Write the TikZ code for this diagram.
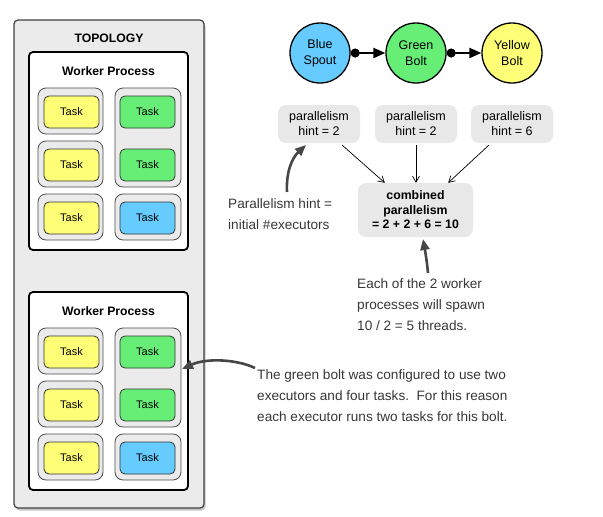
\documentclass[tikz,border=0pt]{standalone}
\usepackage{fontspec}
\setmainfont{Liberation Sans}
\usetikzlibrary{arrows.meta,shadows,calc}
\definecolor{tyellow}{RGB}{255,255,119}
\definecolor{tgreen}{RGB}{102,238,119}
\definecolor{tblue}{RGB}{102,204,255}
\definecolor{boxgray}{RGB}{235,235,235}
\definecolor{hintgray}{RGB}{232,232,232}
\definecolor{pen}{RGB}{55,55,55}
\definecolor{arrowgray}{RGB}{70,70,70}
\begin{document}
\begin{tikzpicture}[x=1pt,y=-1pt,
  topo/.style={draw=black!75, line width=1.2pt, fill=boxgray, rounded corners=4pt,
    minimum width=190pt, minimum height=488pt, inner sep=0pt,
    drop shadow={shadow xshift=1.5pt, shadow yshift=-2.5pt, opacity=0.45}},
  wp/.style={draw=black, line width=1.8pt, fill=white, rounded corners=4pt,
    minimum width=159pt, minimum height=198pt, inner sep=0pt},
  exec/.style={draw=black!70, line width=0.8pt, fill=boxgray, rounded corners=8pt, inner sep=0pt},
  task/.style={draw=black!80, line width=0.8pt, rounded corners=5pt, minimum width=55pt,
    minimum height=32pt, inner sep=0pt, font=\fontsize{11}{13}\selectfont},
  title/.style={font=\bfseries\fontsize{12.2}{14}\selectfont, inner sep=0pt},
  comp/.style={circle, draw=black, line width=1.3pt, minimum size=60pt, inner sep=0pt,
    align=center, font=\fontsize{12.5}{16}\selectfont},
  hint/.style={fill=hintgray, rounded corners=8pt, minimum width=82pt, minimum height=38pt,
    inner sep=0pt, align=center, font=\fontsize{12.5}{15}\selectfont},
  flow/.style={line width=2pt, {Circle[length=9pt]}-{Triangle[length=12pt,width=10pt]}},
  thin arrow/.style={line width=0.7pt, -{Straight Barb[length=6pt,width=7pt]}},
  note arrow/.style={draw=arrowgray, line width=2.6pt, -{Triangle[length=11pt,width=9pt]}},
  note/.style={text=pen, align=left, anchor=north west, inner sep=0pt,
    font=\fontsize{13.6}{21}\selectfont}
]
\useasboundingbox (0,0) rectangle (603,517);

% topology
\node[topo] (topo) at (109,264) {};
\node[title] (topotitle) at (109,38) {TOPOLOGY};

\foreach \w/\o in {1/0, 2/240} {
  \node[wp] (wp\w) at (108.5,151+\o) {};
  \node[title] (wpt\w) at (108.5,71+\o) {Worker Process};
  % executors
  \node[exec, minimum width=65pt, minimum height=46pt] (ea\w) at (70.5,111+\o) {};
  \node[exec, minimum width=65pt, minimum height=46pt] (eb\w) at (70.5,164+\o) {};
  \node[exec, minimum width=65pt, minimum height=46pt] (ec\w) at (70.5,217+\o) {};
  \node[exec, minimum width=66pt, minimum height=99pt] (ed\w) at (148,137.5+\o) {};
  \node[exec, minimum width=66pt, minimum height=46pt] (ee\w) at (148,217+\o) {};
  % tasks
  \node[task, fill=tyellow] (ta\w) at (71.5,112+\o) {Task};
  \node[task, fill=tyellow] (tb\w) at (71.5,165+\o) {Task};
  \node[task, fill=tyellow] (tc\w) at (71.5,218+\o) {Task};
  \node[task, fill=tgreen] (td\w) at (147.5,112+\o) {Task};
  \node[task, fill=tgreen] (te\w) at (147.5,165+\o) {Task};
  \node[task, fill=tblue] (tf\w) at (147.5,218+\o) {Task};
}

% components
\node[comp, fill=tblue] (blue) at (320,53) {Blue\\Spout};
\node[comp, fill=tgreen] (green) at (416,53) {Green\\Bolt};
\node[comp, fill=tyellow] (yellow) at (512,53) {Yellow\\Bolt};
\draw[flow] (blue) -- (green);
\draw[flow] (green) -- (yellow);

% hints
\node[hint] (p1) at (319,124) {parallelism\\hint = 2};
\node[hint] (p2) at (416,124) {parallelism\\hint = 2};
\node[hint] (p3) at (512,124) {parallelism\\hint = 6};
\node[hint, minimum width=115pt, minimum height=54pt,
  font=\bfseries\fontsize{12.3}{14.5}\selectfont] (comb) at (415.5,210)
  {combined\\parallelism\\= 2 + 2 + 6 = 10};

\draw[thin arrow] ($(p1.south east)+(-18,2)$) -- ($(comb.north west)+(27,0)$);
\draw[thin arrow] ($(p2.south)+(0,2)$) -- ($(comb.north)+(0.5,0)$);
\draw[thin arrow] ($(p3.south west)+(18,2)$) -- ($(comb.north east)+(-25,0)$);

% notes
\node[note] (n1) at (228,198) {Parallelism hint =\\initial \#executors};
\node[note] (n2) at (357,278) {Each of the 2 worker\\processes will spawn\\10 / 2 = 5 threads.};
\node[note] (n3) at (257,369) {The green bolt was configured to use two\\executors and four tasks.\ \ For this reason\\each executor runs two tasks for this bolt.};

\coordinate (a1s) at (287,192);
\coordinate (a1e) at (306,145);
\draw[note arrow] (a1s) .. controls (286,172) and (292,158) .. (a1e);
\coordinate (a2s) at (428,273);
\coordinate (a2e) at (423,239);
\draw[note arrow] (a2s) .. controls (427,262) and (425,250) .. (a2e);
\coordinate (a3s) at (255,368);
\coordinate (a3e) at (182,369);
\draw[note arrow] (a3s) .. controls (236,359) and (206,358) .. (a3e);
\end{tikzpicture}
\end{document}
